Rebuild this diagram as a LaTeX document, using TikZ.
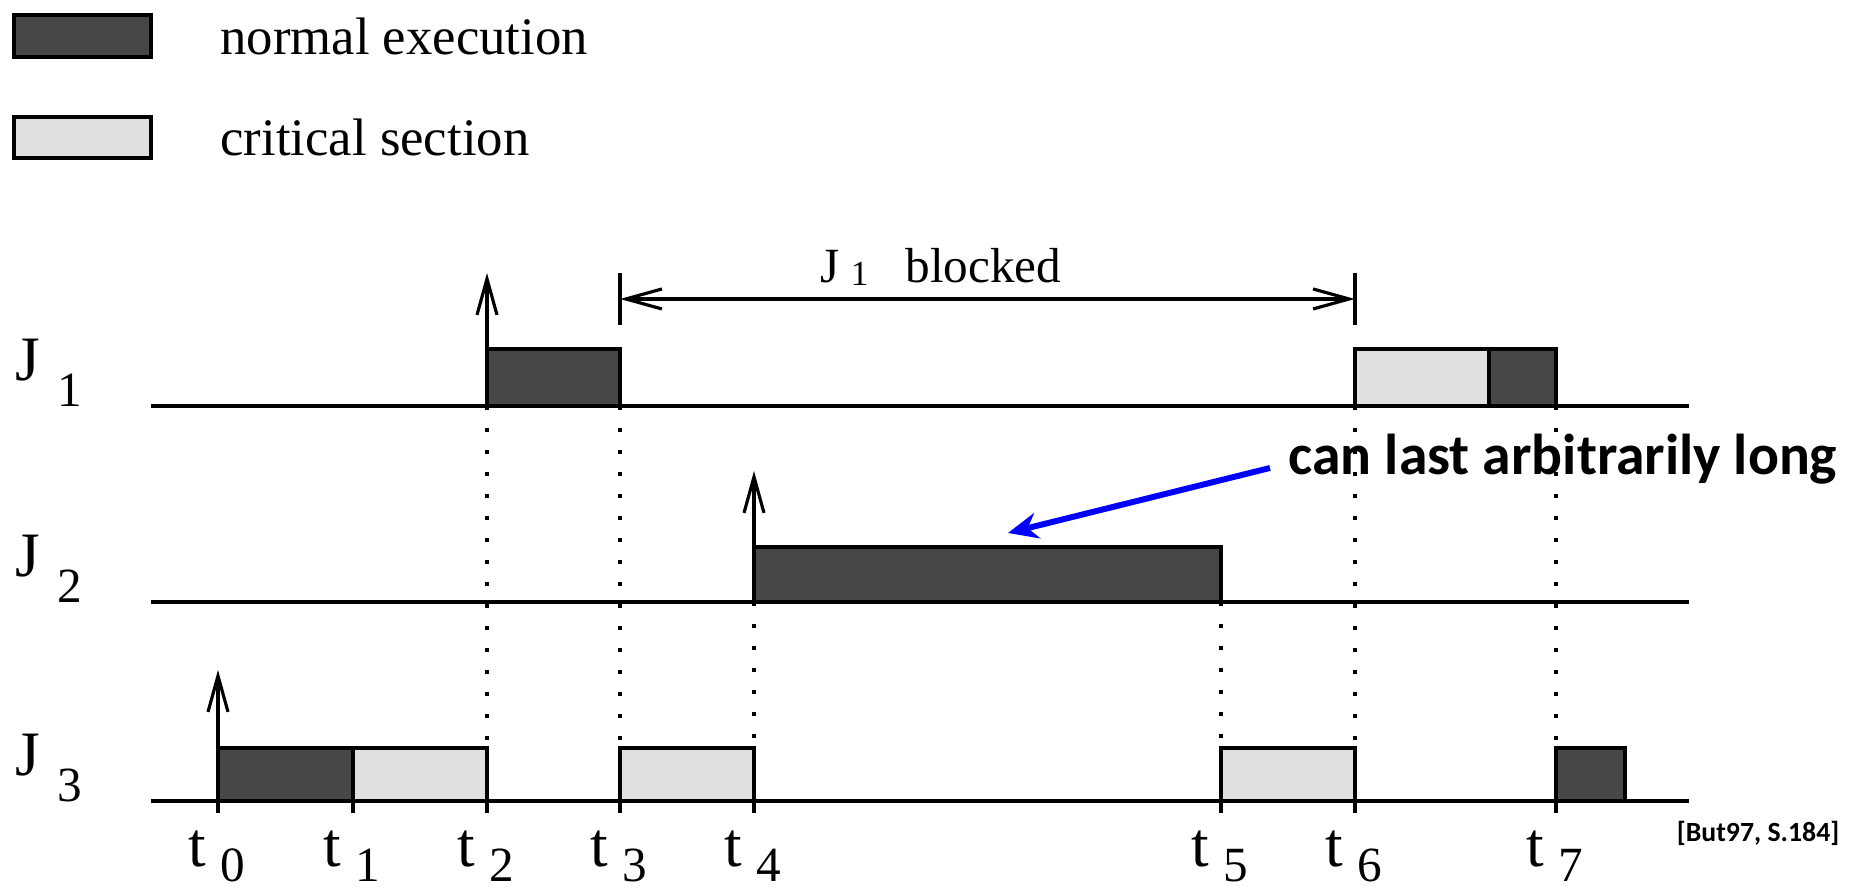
\documentclass[tikz,border=0pt]{standalone}
\usepackage{fontspec}
\setmainfont{Liberation Serif}
\newfontfamily\notefont{Carlito}
\usepackage{tikz}
\usetikzlibrary{arrows.meta,positioning}

\newcommand{\tlabel}[1]{t\hspace{0.14cm}\raisebox{-0.15cm}{\fontsize{14}{14}\selectfont #1}}
\newcommand{\jlabel}[1]{J\hspace{0.17cm}\raisebox{-0.26cm}{\fontsize{14}{14}\selectfont #1}}

\tikzset{
    every node/.style={inner sep=0pt},
    axis/.style={line width=1pt},
    execbox/.style={draw=black, line width=1pt, fill=black!72},
    critbox/.style={draw=black, line width=1pt, fill=black!12},
    guide/.style={line width=0.9pt, dash pattern=on 0.04cm off 0.18cm},
    release/.style={line width=0.9pt, -{Straight Barb[length=0.36cm,width=0.2cm]}},
    span/.style={line width=0.9pt, {Straight Barb[length=0.36cm,width=0.2cm]}-{Straight Barb[length=0.36cm,width=0.2cm]}},
    note/.style={draw=blue, line width=1.7pt, -{Stealth[length=0.3cm,width=0.26cm]}},
}

\begin{document}
\begin{tikzpicture}[>=Stealth,scale=1]
    \useasboundingbox (0,0) rectangle (18.58,8.90);

    % legend
    \node[execbox, minimum width=1.37cm, minimum height=0.42cm] (keyexec) at (0.825,8.54) {};
    \node[critbox, minimum width=1.37cm, minimum height=0.41cm] (keycrit) at (0.825,7.525) {};
    \node[right=0.67cm of keyexec, font=\fontsize{15}{18}\selectfont] (lexec) {normal execution};
    \node[right=0.67cm of keycrit, font=\fontsize{15}{18}\selectfont] (lcrit) {critical section};

    % job labels
    \node[anchor=base west, font=\fontsize{18}{20}\selectfont] (j1) at (0.15,5.09) {\jlabel{1}};
    \node[anchor=base west, font=\fontsize{18}{20}\selectfont] (j2) at (0.15,3.13) {\jlabel{2}};
    \node[anchor=base west, font=\fontsize{18}{20}\selectfont] (j3) at (0.15,1.14) {\jlabel{3}};

    % dotted guides
    \draw[guide] (4.87,4.84) -- (4.87,0.89);
    \draw[guide] (6.20,4.84) -- (6.20,0.89);
    \draw[guide] (7.54,2.88) -- (7.54,0.89);
    \draw[guide] (12.21,2.88) -- (12.21,0.89);
    \draw[guide] (13.55,4.84) -- (13.55,0.89);
    \draw[guide] (15.56,4.84) -- (15.56,0.89);

    % time axes
    \draw[axis] (1.51,4.84) -- (16.89,4.84);
    \draw[axis] (1.51,2.88) -- (16.89,2.88);
    \draw[axis] (1.51,0.89) -- (16.89,0.89);
    \draw[axis] (2.18,0.89) -- (2.18,0.77) (3.53,0.89) -- (3.53,0.77)
        (4.87,0.89) -- (4.87,0.77) (6.20,0.89) -- (6.20,0.77)
        (7.54,0.89) -- (7.54,0.77) (12.21,0.89) -- (12.21,0.77)
        (13.55,0.89) -- (13.55,0.77) (15.56,0.89) -- (15.56,0.77);

    % J1
    \draw[execbox] (4.87,4.84) rectangle (6.20,5.41);
    \draw[critbox] (13.55,4.84) rectangle (14.89,5.41);
    \draw[execbox] (14.89,4.84) rectangle (15.56,5.41);
    \draw[release] (4.87,5.41) -- (4.87,6.17);

    % J2
    \draw[execbox] (7.54,2.88) rectangle (12.21,3.43);
    \draw[release] (7.54,3.43) -- (7.54,4.19);

    % J3
    \draw[execbox] (2.18,0.89) rectangle (3.53,1.42);
    \draw[critbox] (3.53,0.89) rectangle (4.87,1.42);
    \draw[critbox] (6.20,0.89) rectangle (7.54,1.42);
    \draw[critbox] (12.21,0.89) rectangle (13.55,1.42);
    \draw[execbox] (15.56,0.89) rectangle (16.25,1.42);
    \draw[release] (2.18,1.42) -- (2.18,2.20);

    % blocking interval
    \coordinate (bl) at (6.20,5.91);
    \coordinate (br) at (13.55,5.91);
    \draw[line width=0.9pt] (6.20,5.65) -- (6.20,6.17);
    \draw[line width=0.9pt] (13.55,5.65) -- (13.55,6.17);
    \draw[span] (bl) -- (br);
    \node[anchor=base west, font=\fontsize{14}{16}\selectfont] (blocked) at (8.20,6.07)
        {J\hspace{0.11cm}\raisebox{-0.03cm}{\fontsize{10}{10}\selectfont 1}\hspace{0.37cm}blocked};

    % time labels
    \node[anchor=base west, font=\fontsize{18}{20}\selectfont] (t0) at (1.88,0.23) {\tlabel{0}};
    \node[anchor=base west, font=\fontsize{18}{20}\selectfont] (t1) at (3.23,0.23) {\tlabel{1}};
    \node[anchor=base west, font=\fontsize{18}{20}\selectfont] (t2) at (4.57,0.23) {\tlabel{2}};
    \node[anchor=base west, font=\fontsize{18}{20}\selectfont] (t3) at (5.90,0.23) {\tlabel{3}};
    \node[anchor=base west, font=\fontsize{18}{20}\selectfont] (t4) at (7.24,0.23) {\tlabel{4}};
    \node[anchor=base west, font=\fontsize{18}{20}\selectfont] (t5) at (11.91,0.23) {\tlabel{5}};
    \node[anchor=base west, font=\fontsize{18}{20}\selectfont] (t6) at (13.25,0.23) {\tlabel{6}};
    \node[anchor=base west, font=\fontsize{18}{20}\selectfont] (t7) at (15.26,0.23) {\tlabel{7}};

    % annotation
    \node[anchor=base west, font=\notefont\bfseries\fontsize{16.4}{18}\selectfont] (longrun) at (12.88,4.15) {can last arbitrarily long};
    \coordinate (busy) at (10.08,3.57);
    \draw[note] ([shift={(-0.18,0.07)}]longrun.base west) -- (busy);

    \node[anchor=base east, font=\notefont\bfseries\fontsize{7.9}{9}\selectfont] (cite) at (18.40,0.48) {[But97, S.184]};
\end{tikzpicture}
\end{document}
